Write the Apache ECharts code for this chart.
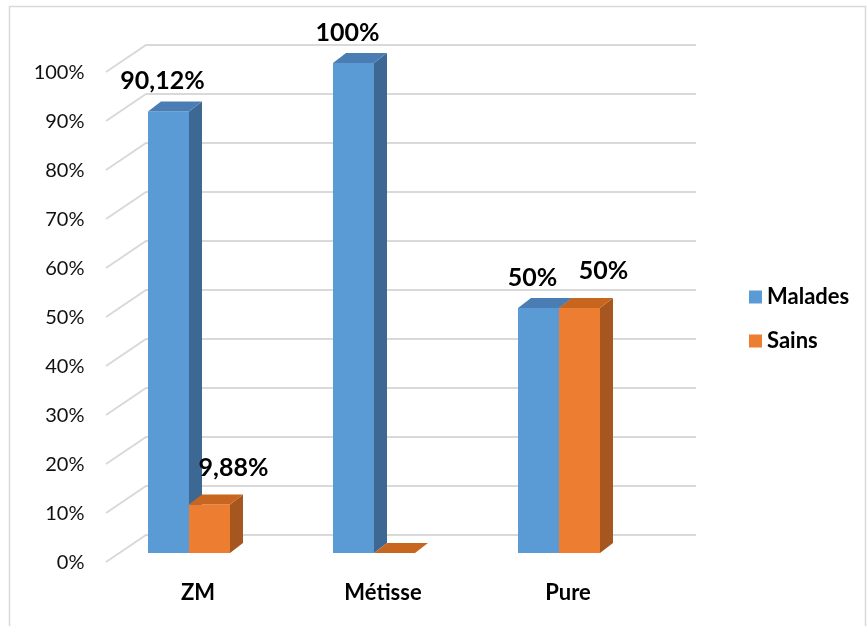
<!DOCTYPE html>
<html>
<head>
<meta charset="utf-8">
<script src="https://cdn.jsdelivr.net/npm/echarts@6/dist/echarts.min.js"></script>
<style>
  html, body { margin: 0; padding: 0; background: #fff; }
  #chart { width: 867px; height: 626px; }
</style>
</head>
<body>
<div id="chart"></div>
<script>
const categories = ["ZM", "Métisse", "Pure"];
const malades = [90.12, 100, 50];
const sains = [9.88, 0, 50];
const yTicks = [0, 10, 20, 30, 40, 50, 60, 70, 80, 90, 100];

const FONT = "Lato, 'Open Sans', sans-serif";
const DX = 13, DY = -10, BAR_W = 41;

function fmt(v) {
  return Number.isInteger(v) ? v + "%" : v.toFixed(2).replace(".", ",") + "%";
}

function barSeries(name, values, side, colors, labelDx, labelDy) {
  return {
    name,
    type: "custom",
    itemStyle: { color: colors.front },
    data: values.map((v, i) => [i, v]),
    renderItem(params, api) {
      const i = api.value(0), v = api.value(1);
      const base = api.coord([i, 0]);
      const top = api.coord([i, v]);
      const x0 = side === 0 ? base[0] - BAR_W : base[0];
      const x1 = x0 + BAR_W;
      const yb = base[1], yt = top[1];
      const children = [
        {
          type: "rect",
          shape: { x: x0, y: yt, width: BAR_W, height: yb - yt },
          style: { fill: colors.front },
        },
        {
          type: "polygon",
          shape: { points: [[x1, yt], [x1 + DX, yt + DY], [x1 + DX, yb + DY], [x1, yb]] },
          style: { fill: colors.side },
        },
        {
          type: "polygon",
          shape: { points: [[x0, yt], [x1, yt], [x1 + DX, yt + DY], [x0 + DX, yt + DY]] },
          style: { fill: colors.top },
        },
      ];
      if (v > 0) {
        children.push({
          type: "text",
          x: x0 + BAR_W / 2 + labelDx,
          y: yt + labelDy,
          style: {
            text: fmt(v),
            fill: "#000",
            font: "bold 25px " + FONT,
            align: "center",
            verticalAlign: "middle",
          },
        });
      }
      return { type: "group", children };
    },
  };
}

const chart = echarts.init(document.getElementById("chart"));
chart.setOption({
  animation: false,
  textStyle: { fontFamily: FONT },
  graphic: [
    {
      type: "rect",
      shape: { x: 9.5, y: 6.5, width: 856, height: 640 },
      style: { fill: "none", stroke: "#D9D9D9", lineWidth: 1.5 },
      silent: true,
    },
  ],
  legend: {
    orient: "vertical",
    left: 744,
    top: 281,
    itemWidth: 13,
    itemHeight: 13,
    itemGap: 22,
    icon: "rect",
    textStyle: { fontSize: 22, fontWeight: "bold", color: "#000", fontFamily: FONT },
    data: ["Malades", "Sains"],
  },
  grid: { left: 96.5, width: 555, top: 63, height: 490 },
  xAxis: {
    type: "category",
    data: categories,
    axisLine: { show: false },
    axisTick: { show: false },
    axisLabel: {
      margin: 29,
      fontSize: 22,
      fontWeight: "bold",
      color: "#000",
      padding: [0, 0, 0, 18],
    },
  },
  yAxis: {
    type: "value",
    min: 0,
    max: 100,
    interval: 10,
    axisLine: { show: false },
    axisTick: { show: false },
    splitLine: { show: false },
    axisLabel: {
      formatter: "{value}%",
      margin: 12,
      fontSize: 20,
      color: "#111",
      verticalAlign: "top",
      lineHeight: 20,
    },
  },
  series: [
    {
      type: "custom",
      silent: true,
      data: yTicks.map((t) => [0, t]),
      renderItem(params, api) {
        const cs = params.coordSys;
        const y = api.coord([0, api.value(1)])[1];
        return {
          type: "polyline",
          shape: {
            points: [
              [cs.x + 9.5, y + 9],
              [cs.x + 49.5, y - 18],
              [cs.x + cs.width + 44.5, y - 18],
            ],
          },
          style: { stroke: "#D9D9D9", lineWidth: 2, fill: "none" },
        };
      },
    },
    barSeries("Malades", malades, 0, { front: "#5B9BD5", top: "#4A7DB3", side: "#3D6894" }, -6, -30),
    barSeries("Sains", sains, 1, { front: "#ED7D31", top: "#C8661F", side: "#A6561F" }, 24, -37),
  ],
});
</script>
</body>
</html>
